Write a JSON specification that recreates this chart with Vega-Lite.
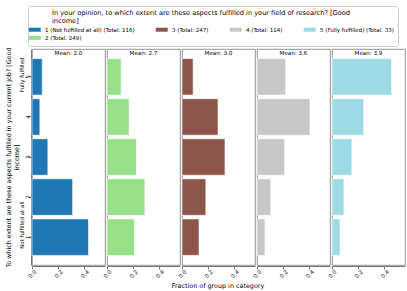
{
  "$schema": "https://vega.github.io/schema/vega-lite/v6.json",
  "config": {
    "font": "DejaVu Sans",
    "view": {"stroke": "#777", "strokeWidth": 0.8},
    "axis": {"domainColor": "#777", "tickColor": "#777", "labelColor": "#000", "titleColor": "#000", "titleFontWeight": "normal", "labelFontSize": 5.5, "titleFontSize": 6.4, "grid": false, "labelOverlap": false},
    "axisX": {"labelOverlap": false}
  },
  "data": {"values": [
    {"group": 1, "mean_label": "Mean: 2.0", "cat": "1 (Not fulfilled at all) (Total: 116)", "level": 1, "frac": 0.431},
    {"group": 1, "mean_label": "Mean: 2.0", "cat": "1 (Not fulfilled at all) (Total: 116)", "level": 2, "frac": 0.310},
    {"group": 1, "mean_label": "Mean: 2.0", "cat": "1 (Not fulfilled at all) (Total: 116)", "level": 3, "frac": 0.121},
    {"group": 1, "mean_label": "Mean: 2.0", "cat": "1 (Not fulfilled at all) (Total: 116)", "level": 4, "frac": 0.060},
    {"group": 1, "mean_label": "Mean: 2.0", "cat": "1 (Not fulfilled at all) (Total: 116)", "level": 5, "frac": 0.078},
    {"group": 2, "mean_label": "Mean: 2.7", "cat": "2 (Total: 249)", "level": 1, "frac": 0.209},
    {"group": 2, "mean_label": "Mean: 2.7", "cat": "2 (Total: 249)", "level": 2, "frac": 0.289},
    {"group": 2, "mean_label": "Mean: 2.7", "cat": "2 (Total: 249)", "level": 3, "frac": 0.225},
    {"group": 2, "mean_label": "Mean: 2.7", "cat": "2 (Total: 249)", "level": 4, "frac": 0.169},
    {"group": 2, "mean_label": "Mean: 2.7", "cat": "2 (Total: 249)", "level": 5, "frac": 0.108},
    {"group": 3, "mean_label": "Mean: 3.0", "cat": "3 (Total: 247)", "level": 1, "frac": 0.130},
    {"group": 3, "mean_label": "Mean: 3.0", "cat": "3 (Total: 247)", "level": 2, "frac": 0.182},
    {"group": 3, "mean_label": "Mean: 3.0", "cat": "3 (Total: 247)", "level": 3, "frac": 0.328},
    {"group": 3, "mean_label": "Mean: 3.0", "cat": "3 (Total: 247)", "level": 4, "frac": 0.275},
    {"group": 3, "mean_label": "Mean: 3.0", "cat": "3 (Total: 247)", "level": 5, "frac": 0.085},
    {"group": 4, "mean_label": "Mean: 3.6", "cat": "4 (Total: 114)", "level": 1, "frac": 0.061},
    {"group": 4, "mean_label": "Mean: 3.6", "cat": "4 (Total: 114)", "level": 2, "frac": 0.105},
    {"group": 4, "mean_label": "Mean: 3.6", "cat": "4 (Total: 114)", "level": 3, "frac": 0.211},
    {"group": 4, "mean_label": "Mean: 3.6", "cat": "4 (Total: 114)", "level": 4, "frac": 0.404},
    {"group": 4, "mean_label": "Mean: 3.6", "cat": "4 (Total: 114)", "level": 5, "frac": 0.219},
    {"group": 5, "mean_label": "Mean: 3.9", "cat": "5 (Fully fulfilled) (Total: 33)", "level": 1, "frac": 0.061},
    {"group": 5, "mean_label": "Mean: 3.9", "cat": "5 (Fully fulfilled) (Total: 33)", "level": 2, "frac": 0.091},
    {"group": 5, "mean_label": "Mean: 3.9", "cat": "5 (Fully fulfilled) (Total: 33)", "level": 3, "frac": 0.152},
    {"group": 5, "mean_label": "Mean: 3.9", "cat": "5 (Fully fulfilled) (Total: 33)", "level": 4, "frac": 0.242},
    {"group": 5, "mean_label": "Mean: 3.9", "cat": "5 (Fully fulfilled) (Total: 33)", "level": 5, "frac": 0.455}
  ]},
  "spacing": 0,
  "facet": {
    "column": {
      "field": "mean_label", "type": "nominal", "title": "Fraction of group in category",
      "sort": ["Mean: 2.0", "Mean: 2.7", "Mean: 3.0", "Mean: 3.6", "Mean: 3.9"],
      "header": {"labelOrient": "top", "labelFontSize": 5.6, "labelPadding": -9, "labelColor": "#000", "labelFont": "DejaVu Sans",
                 "titleOrient": "bottom", "titleFontSize": 6.4, "titleFontWeight": "normal", "titleColor": "#000", "titleFont": "DejaVu Sans", "titlePadding": -7}
    }
  },
  "spec": {
    "width": 73,
    "height": 216,
    "layer": [
      {
        "mark": {"type": "bar", "stroke": "white", "strokeWidth": 0.6},
        "encoding": {
          "y": {"field": "level", "type": "ordinal", "sort": "descending",
                "scale": {"paddingInner": 0.09, "paddingOuter": 0.24},
                "axis": {"title": null, "labelAngle": -90, "labelAlign": "center", "labelBaseline": "middle", "labelPadding": 1, "tickSize": 3}},
          "x": {"field": "frac", "type": "quantitative", "scale": {"domain": [0, 0.557], "nice": false},
                "axis": {"tickCount": 3, "format": ".1f", "labelAngle": -45, "labelAlign": "center", "labelBaseline": "middle", "labelPadding": 4.5, "tickSize": 3, "labelOverlap": false, "labelBound": false, "labelFlush": false, "title": null}},
          "color": {"field": "cat", "type": "nominal",
            "scale": {
              "domain": ["1 (Not fulfilled at all) (Total: 116)", "3 (Total: 247)", "4 (Total: 114)", "5 (Fully fulfilled) (Total: 33)", "2 (Total: 249)"],
              "range": ["#1f77b4", "#8c564b", "#c7c7c7", "#9edae5", "#98df8a"]
            },
            "legend": {
              "orient": "none", "legendX": -4, "legendY": -43, "direction": "horizontal",
              "values": ["1 (Not fulfilled at all) (Total: 116)", "3 (Total: 247)", "4 (Total: 114)", "5 (Fully fulfilled) (Total: 33)", "2 (Total: 249)"],
              "columns": 4, "columnPadding": 20, "rowPadding": 1.5,
              "title": ["In your opinion, to which extent are these aspects fulfilled in your field of research? [Good", "income]"],
              "titleFontSize": 6.6, "titleFontWeight": "normal", "titleLineHeight": 7.5, "titleColor": "#000", "titlePadding": 2.5, "titleLimit": 500,
              "titleAnchor": "start", "titleAlign": "left",
              "labelFontSize": 5.5, "labelColor": "#000", "labelOffset": 7.5, "labelLimit": 300,
              "symbolType": "M-3,-1H3V1H-3Z", "symbolSize": 16, "symbolStrokeWidth": 0,
              "strokeColor": "#ccc", "fillColor": "white", "padding": 4, "cornerRadius": 2,
              "encoding": {"title": {"dx": {"value": 20}}}
            }}
        }
      },
      {
        "mark": {"type": "bar", "opacity": 0},
        "encoding": {
          "y": {"field": "level", "type": "ordinal", "sort": "descending",
                "axis": {"orient": "left", "values": [1, 5], "labelExpr": "datum.value == 1 ? 'Not fulfilled at all' : 'Fully fulfilled'",
                         "ticks": false, "tickSize": 0, "domain": false, "labelAngle": -90, "labelAlign": "center", "labelBaseline": "middle",
                         "labelPadding": 9.5, "labelFontSize": 5.5,
                         "labelOffset": {"condition": {"test": "datum.value == 1", "value": -12}, "value": -2},
                         "title": ["To which extent are these aspects fulfilled in your current job? [Good", "income]"], "titlePadding": 0, "titleLineHeight": 8}},
          "x": {"field": "frac", "type": "quantitative",
                "axis": {"tickCount": 3, "format": ".1f", "labelAngle": -45, "labelAlign": "center", "labelBaseline": "middle", "labelPadding": 4.5, "tickSize": 3, "labelOverlap": false, "labelBound": false, "labelFlush": false, "title": null}}
        }
      }
    ],
    "resolve": {"axis": {"y": "independent"}}
  }
}
